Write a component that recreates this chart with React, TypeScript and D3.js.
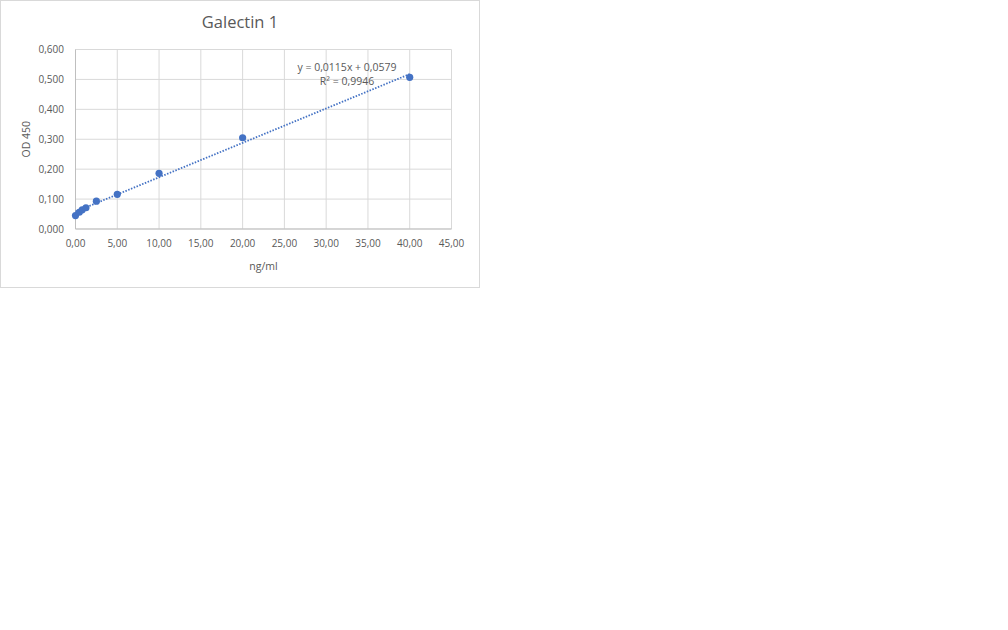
import * as d3 from "d3";

// standard concentrations (ng/ml) and measured OD 450
const concentrations = [0, 0.45, 0.8, 1.25, 2.5, 5, 10, 20, 40];
const odValues = [0.045, 0.056, 0.064, 0.071, 0.093, 0.116, 0.186, 0.305, 0.507];
const xTicks = [0, 5, 10, 15, 20, 25, 30, 35, 40, 45];
const yTicks = [0, 0.1, 0.2, 0.3, 0.4, 0.5, 0.6];
const slope = 0.0115;
const intercept = 0.0579;
const rSquared = 0.9946;

const blue = "#4472C4";
const textColor = "#595959";
const font = "'Open Sans', 'Noto Sans', sans-serif";

const fmt = (v: number, digits: number) => v.toFixed(digits).replace(".", ",");

function App() {
	const x = d3.scaleLinear().domain([0, 45]).range([75.5, 451.5]);
	const y = d3.scaleLinear().domain([0, 0.6]).range([229, 49.5]);

	const trendX = d3.extent(concentrations) as [number, number];
	const trendLine = d3
		.line<number>()
		.x((d) => x(d))
		.y((d) => y(slope * d + intercept))(trendX) as string;

	return (
		<svg
			width={1008}
			height={630}
			style={{ position: "absolute", left: 0, top: 0, background: "#fff" }}
			fontFamily={font}
		>
			<rect x={0.5} y={0.5} width={479} height={287} fill="#fff" stroke="#d9d9d9" />
			<text x={240} y={28} textAnchor="middle" fontSize={16.5} fill={textColor}>
				Galectin 1
			</text>
			<g>
				{yTicks.map((t) => (
					<line key={"gy" + t} x1={x(0)} x2={x(45)} y1={y(t)} y2={y(t)} stroke="#d9d9d9" />
				))}
				{xTicks.map((t) => (
					<line key={"gx" + t} x1={x(t)} x2={x(t)} y1={y(0)} y2={y(0.6)} stroke="#d9d9d9" />
				))}
				<line x1={x(0)} x2={x(45)} y1={y(0)} y2={y(0)} stroke="#bfbfbf" />
				<line x1={x(0)} x2={x(0)} y1={y(0)} y2={y(0.6)} stroke="#bfbfbf" />
			</g>
			<g fontSize={10} fill={textColor}>
				{yTicks.map((t) => (
					<text key={"ly" + t} x={64} y={y(t) + 3.5} textAnchor="end">
						{fmt(t, 3)}
					</text>
				))}
				{xTicks.map((t) => (
					<text key={"lx" + t} x={x(t)} y={246.5} textAnchor="middle">
						{fmt(t, 2)}
					</text>
				))}
			</g>
			<text
				transform={`translate(30, ${(y(0) + y(0.6)) / 2}) rotate(-90)`}
				textAnchor="middle"
				fontSize={10.5}
				fill={textColor}
			>
				OD 450
			</text>
			<text x={(x(0) + x(45)) / 2} y={269.5} textAnchor="middle" fontSize={10.5} fill={textColor}>
				ng/ml
			</text>
			<path d={trendLine} fill="none" stroke={blue} strokeWidth={1.8} strokeDasharray="1.5 1.5" />
			{concentrations.map((c, i) => (
				<circle key={"p" + i} cx={x(c)} cy={y(odValues[i])} r={3.6} fill={blue} />
			))}
			<g fontSize={10.5} fill={textColor} textAnchor="middle">
				<text x={347} y={71}>
					{`y = ${fmt(slope, 4)}x + ${fmt(intercept, 4)}`}
				</text>
				<text x={347} y={84.5}>
					{`R² = ${fmt(rSquared, 4)}`}
				</text>
			</g>
		</svg>
	);
}

export default App;
